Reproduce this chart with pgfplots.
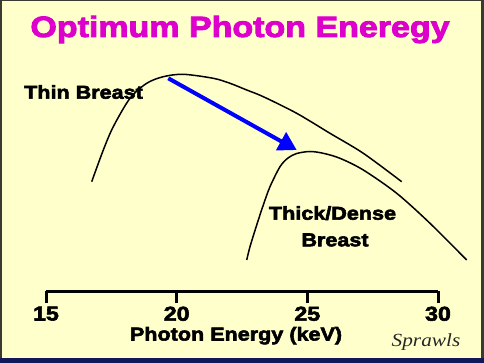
\documentclass[border=0pt]{standalone}
\usepackage{fontspec}
\usepackage{pgfplots}
\pgfplotsset{compat=1.18}
\usetikzlibrary{arrows.meta}
\newfontfamily\blackfont{Liberation Sans}[FakeStretch=1.16, BoldFeatures={FakeBold=3}]
\newfontfamily\signfont{Liberation Serif}
\definecolor{bgyellow}{RGB}{255,255,204}
\definecolor{frame}{RGB}{58,58,48}
\definecolor{band}{RGB}{16,24,90}
\definecolor{titlemag}{RGB}{221,0,204}
\begin{document}
\begin{tikzpicture}[x=1pt,y=1pt]
\fill[frame] (0,0) rectangle (484,-363);
\fill[bgyellow] (1.5,-1.5) rectangle (481,-358);
\fill[band] (0,-358) rectangle (484,-363);
\node[anchor=base, text=titlemag, inner sep=0pt] at (240,-37)
  {\blackfont\bfseries\fontsize{29.3}{30}\selectfont Optimum Photon Eneregy};
\node[anchor=base, inner sep=0pt] at (83.5,-98.7)
  {\blackfont\bfseries\fontsize{18.6}{20}\selectfont Thin Breast};
\node[anchor=base, inner sep=0pt] at (332.5,-219.7)
  {\blackfont\bfseries\fontsize{18.6}{20}\selectfont Thick/Dense};
\node[anchor=base, inner sep=0pt] at (335,-246.3)
  {\blackfont\bfseries\fontsize{18.6}{20}\selectfont Breast};
\node[anchor=base, inner sep=0pt] at (236,-340.5)
  {\blackfont\bfseries\fontsize{18.6}{20}\selectfont Photon Energy (keV)};
\node[anchor=base, inner sep=0pt, text=black!85, xscale=1.15] at (426,-346.7)
  {\signfont\itshape\fontsize{18.5}{19}\selectfont Sprawls};
\begin{axis}[
  at={(46pt,-291pt)}, anchor=south west,
  x=26.1333pt, y=1pt,
  xmin=15, xmax=30, ymin=0, ymax=230,
  clip=false,
  axis x line*=bottom, axis y line=none,
  axis line style={line width=3pt, black},
  xtick={15,20,25,30},
  major tick length=12pt,
  tick align=outside,
  tick style={line width=3pt, black},
  /pgf/number format/assume math mode=true,
  xticklabel style={font=\blackfont\bfseries\fontsize{20}{20}\selectfont, anchor=north, inner sep=0pt, yshift=-3.5pt},
]
\addplot[black, line width=1.5pt, smooth] coordinates {
(16.749,109.3) (17.193,141) (17.575,164.3) (18.214,192.7) (18.853,207.7)
(19.489,214.3) (20.254,216.7) (21.402,212.7) (22.041,207.7) (22.680,201)
(23.315,194.3) (24.593,177.7) (25.867,157.7) (27.142,137.7) (28.611,109.3)};
\addplot[black, line width=1.5pt, smooth] coordinates {
(22.680,31) (22.806,44.3) (23.063,66) (23.315,86) (23.571,104.3) (23.954,124.3)
(24.26,133) (24.593,137.5) (25.102,139.5) (25.611,137.7) (26.250,132.7)
(27.142,121) (28.420,97.7) (29.694,67.7) (31.098,31)};
\addplot[blue, line width=4pt, -{Triangle[length=18pt,width=20pt]}] coordinates {
(19.68,212.7) (24.593,141)};
\end{axis}
\end{tikzpicture}
\end{document}
